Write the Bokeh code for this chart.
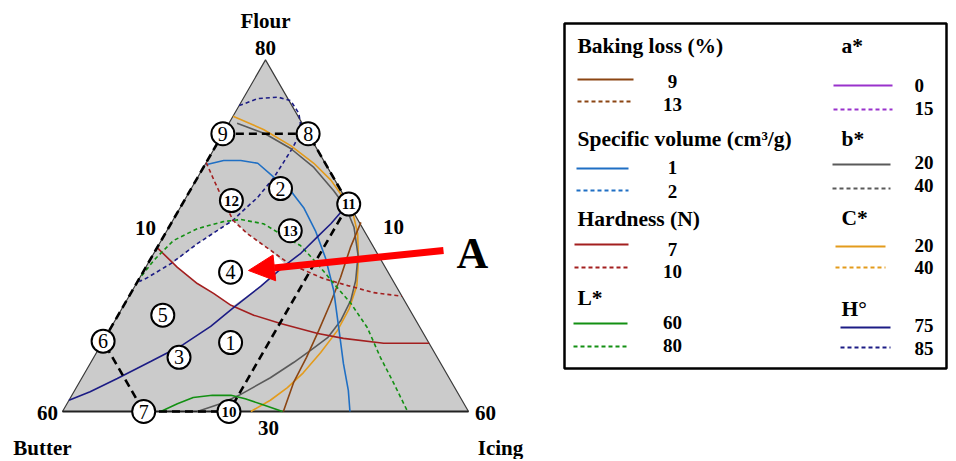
import numpy as np
from bokeh.plotting import figure
from bokeh.models import Range1d, Arrow, NormalHead
from bokeh.core.properties import value
from bokeh.embed import file_html
from bokeh.resources import INLINE

# ---------------- data (percent of Flour / Icing; Butter = 100 - Flour - Icing) ----------------
FLOUR_MIN, BUTTER_MIN, ICING_MIN, SPAN = 30, 10, 10, 50

design_ids = ["1", "2", "3", "4", "5", "6", "7", "8", "9", "10", "11", "12", "13"]
design_flour = [39.8, 61.7, 37.7, 49.8, 43.7, 40.0, 30.0, 69.5, 69.5, 30.0, 59.5, 60.0, 55.7]
design_icing = [25.8, 21.0, 20.5, 20.8, 15.5, 10.0, 20.0, 20.5, 10.0, 30.5, 30.5, 15.8, 25.2]

region_order = ["9", "8", "11", "10", "7", "6", "9"]

# optimum region A
regionA_flour = [57.2, 55.3, 52.9, 50.9, 47.8, 44.9, 46.8, 48.2, 50.5, 51.0, 53.9, 57.2]
regionA_icing = [17.4, 20.1, 24.2, 27.0, 25.5, 23.4, 20.2, 17.5, 13.9, 13.0, 14.7, 17.4]

# Hue angle 85 (dashed navy)
h85_flour = [73.5, 74.5, 74.7, 74.2, 72.4, 71.0, 69.0, 67.5, 65.4, 63.3, 60.4, 58.9, 57.2, 53.9, 51.0, 48.9, 48.5]
h85_icing = [10.0, 11.8, 14.2, 16.0, 17.9, 18.8, 19.5, 19.6, 19.5, 19.4, 18.8, 18.1, 17.4, 14.7, 12.8, 10.8, 10.2]
# Hue angle 75 (solid navy)
h75_flour = [31.6, 32.8, 34.7, 37.1, 39.5, 42.1, 44.8, 47.8, 50.6, 52.5, 54.9, 56.7, 58.3]
h75_icing = [10.0, 12.0, 14.4, 17.3, 20.1, 22.2, 23.7, 25.5, 26.9, 28.1, 29.0, 29.7, 30.1]
# C* 20 (solid orange)
c20_flour = [72.0, 70.1, 67.8, 65.3, 62.9, 60.4, 58.3, 55.3, 51.5, 47.9, 44.6, 41.5, 38.4, 35.5, 33.4, 31.6, 30.0]
c20_icing = [10.0, 14.7, 19.2, 23.3, 26.6, 29.4, 31.6, 33.7, 35.7, 37.3, 38.0, 38.1, 37.6, 36.9, 36.0, 34.8, 33.2]
# b* 20 (solid gray)
b20_flour = [71.0, 69.5, 67.4, 64.7, 61.4, 59.0, 56.2, 52.2, 48.6, 45.8, 42.9, 40.5, 38.7, 37.0, 34.8, 32.4, 31.1, 30.0]
b20_icing = [11.0, 15.2, 19.4, 23.6, 27.7, 30.4, 32.8, 35.3, 36.8, 37.6, 37.8, 37.4, 36.2, 35.0, 33.2, 30.7, 28.9, 26.6]
# Baking loss 9 (solid brown)
bl9_flour = [56.9, 53.3, 49.1, 45.4, 41.5, 37.7, 34.1, 30.0]
bl9_icing = [33.3, 33.8, 34.7, 35.3, 35.8, 36.2, 36.4, 37.2]
# Specific volume 1 (solid blue)
sv1_flour = [65.1, 65.7, 65.7, 65.3, 63.3, 61.4, 58.9, 55.7, 51.8, 47.2, 42.5, 36.8, 33.0, 30.0]
sv1_icing = [10.1, 12.0, 14.1, 16.4, 19.4, 22.4, 25.3, 28.3, 31.5, 34.8, 37.7, 41.2, 43.7, 45.4]
# Hardness 10 (dashed red)
hd10_flour = [65.4, 62.9, 60.0, 57.2, 55.3, 52.9, 51.2, 50.3, 48.9, 47.9, 46.9, 46.4]
hd10_icing = [10.0, 12.2, 14.8, 17.4, 20.1, 24.2, 27.1, 29.2, 32.7, 36.2, 39.9, 43.6]
# Hardness 7 (solid red)
hd7_flour = [53.3, 50.5, 48.2, 46.8, 45.1, 43.7, 42.5, 41.1, 40.4, 39.7, 39.7]
hd7_icing = [10.0, 13.9, 17.5, 20.2, 23.2, 26.7, 30.6, 35.9, 39.4, 44.7, 50.3]
# L* 80 (dashed green)
l80_flour = [49.3, 51.5, 54.3, 56.0, 57.0, 57.3, 56.7, 55.0, 53.6, 51.0, 48.2, 45.4, 41.9, 37.7, 34.0, 30.0]
l80_icing = [10.1, 10.5, 11.5, 13.6, 16.3, 18.3, 21.4, 24.7, 27.5, 30.9, 34.3, 37.8, 41.6, 45.3, 48.8, 52.5]
# L* 60 (solid green)
l60_flour = [30.0, 31.1, 32.0, 32.3, 32.3, 31.8, 31.0, 30.0]
l60_icing = [22.1, 23.6, 25.1, 27.3, 29.6, 31.6, 34.1, 37.1]

# legend content
legend_left_titles = ["Baking loss (%)", "Specific volume (cm\u00b3/g)", "Hardness (N)", "L*"]
legend_left_levels = [["9", "13"], ["1", "2"], ["7", "10"], ["60", "80"]]
legend_right_titles = ["a*", "b*", "C*", "H\u00b0"]
legend_right_levels = [["0", "15"], ["20", "40"], ["20", "40"], ["75", "85"]]

# ---------------- styles ----------------
C_BROWN = "#8B4513"
C_BLUE = "#1F6FC4"
C_RED = "#A31F1F"
C_GREEN = "#139013"
C_PURPLE = "#9932CC"
C_GRAY = "#5A5A5A"
C_ORANGE = "#E39B1C"
C_NAVY = "#1C1C85"
legend_left_colors = [C_BROWN, C_BLUE, C_RED, C_GREEN]
legend_right_colors = [C_PURPLE, C_GRAY, C_ORANGE, C_NAVY]
FONT = value("Liberation Serif")
DASH = "4 3"

# canvas origin in page pixels (observed at the page's top-left)
OX, OY = 0, 0


def tern(flour, icing):
    f = (np.asarray(flour, float) - FLOUR_MIN) / SPAN
    i = (np.asarray(icing, float) - ICING_MIN) / SPAN
    return i + f / 2.0, f * np.sqrt(3) / 2.0


def page(X, Y):
    # page pixel position -> plot units (used for annotation layout only)
    return (np.asarray(X, float) - 62) / 406.0, (411 - np.asarray(Y, float)) / 406.0


W, H = 952, 459
p = figure(width=W, height=H, output_backend="svg", toolbar_location=None,
           x_axis_location=None, y_axis_location=None, min_border=0,
           x_range=Range1d((OX - 62) / 406.0, (OX + W - 62) / 406.0),
           y_range=Range1d((411 - OY - H) / 406.0, (411 - OY) / 406.0))
p.grid.visible = False
p.outline_line_color = None
p.background_fill_color = "white"

# triangle
tx, ty = tern([80, 30, 30], [10, 10, 60])
p.patch(list(tx), list(ty), fill_color="#CBCBCB", line_color="#3a3a3a", line_width=1.2)
p.line(list(tx[1:]), list(ty[1:]), line_color="#222222", line_width=2.2)

# region A
ax, ay = tern(regionA_flour, regionA_icing)
p.patch(list(ax), list(ay), fill_color="white", line_color=None)

curves = [
    (h85_flour, h85_icing, C_NAVY, DASH),
    (c20_flour, c20_icing, C_ORANGE, "solid"),
    (b20_flour, b20_icing, C_GRAY, "solid"),
    (bl9_flour, bl9_icing, C_BROWN, "solid"),
    (sv1_flour, sv1_icing, C_BLUE, "solid"),
    (hd10_flour, hd10_icing, C_RED, DASH),
    (hd7_flour, hd7_icing, C_RED, "solid"),
    (l80_flour, l80_icing, C_GREEN, DASH),
    (l60_flour, l60_icing, C_GREEN, "solid"),
    (h75_flour, h75_icing, C_NAVY, "solid"),
]
for fl, ic, col, dash in curves:
    cx, cy = tern(fl, ic)
    p.line(list(cx), list(cy), line_color=col, line_width=1.6, line_dash=dash)

# experimental region outline
idx = [design_ids.index(k) for k in region_order]
rx, ry = tern([design_flour[k] for k in idx], [design_icing[k] for k in idx])
p.line(list(rx), list(ry), line_color="black", line_width=2.6, line_dash="8 5")

# arrow towards region A
sx, sy = page(443, 250)
ex, ey = page(248, 270)
p.add_layout(Arrow(end=NormalHead(size=26, fill_color="#FF0000", line_color="#FF0000"),
                   x_start=float(sx), y_start=float(sy), x_end=float(ex), y_end=float(ey),
                   line_color="#FF0000", line_width=7))

# design points
dx, dy = tern(design_flour, design_icing)
p.scatter(list(dx), list(dy), size=23, marker="circle", fill_color="white",
          line_color="black", line_width=2)
one = [k for k, s in enumerate(design_ids) if len(s) == 1]
two = [k for k, s in enumerate(design_ids) if len(s) == 2]
p.text([dx[k] for k in one], [dy[k] for k in one], text=[design_ids[k] for k in one],
       text_font=FONT, text_font_size="20px", text_align="center", text_baseline="middle")
p.text([dx[k] for k in two], [dy[k] for k in two], text=[design_ids[k] for k in two],
       text_font=FONT, text_font_size="15px", text_font_style="bold",
       text_align="center", text_baseline="middle")

# triangle labels
lab_text = ["Flour", "80", "10", "10", "60", "60", "30", "Butter", "Icing"]
lab_X = [265, 265, 145, 393, 47, 485, 268, 42, 500]
lab_Y = [20, 47, 227, 226, 412, 412, 427, 447, 447]
lx, ly = page(lab_X, lab_Y)
p.text(list(lx), list(ly), text=lab_text, text_font=FONT, text_font_size="21px",
       text_font_style="bold", text_align="center", text_baseline="middle")
alx, aly = page([472], [253])
p.text(list(alx), list(aly), text=["A"], text_font=FONT, text_font_size="44px",
       text_font_style="bold", text_align="center", text_baseline="middle")

# legend box
bl, bt = page(564, 23)
br, bb = page(946, 368)
p.quad(left=[float(bl)], right=[float(br)], top=[float(bt)], bottom=[float(bb)],
       fill_color=None, line_color="black", line_width=2.5)

# legend entries
titles_X = [577] * 4 + [841] * 4
titles_Y = [45, 138, 218, 297, 45, 138, 217, 308]
solid_Y = [79, 168, 244, 323, 85, 164, 246, 327]
dash_Y = [101, 190, 267, 346, 109, 188, 267, 347]
line_X0 = [577, 576, 574, 573, 833, 832, 835, 840]
line_X1 = [633, 628, 628, 627, 892, 890, 885, 890]
val_X = [672] * 4 + [914] * 4
val_align = ["center"] * 4 + ["left"] * 4
sval_dY = [2, -1, 5, -1, 0, -2, -1, -2]
dval_dY = [3, 1, 4, -1, -1, -3, 0, 1]

titles = legend_left_titles + legend_right_titles
levels = legend_left_levels + legend_right_levels
colors = legend_left_colors + legend_right_colors

tx_, ty_ = page(titles_X, titles_Y)
p.text(list(tx_), list(ty_), text=titles, text_font=FONT, text_font_size="21.5px",
       text_font_style="bold", text_align="left", text_baseline="middle")

x0, ys = page(line_X0, solid_Y)
x1, yd = page(line_X1, dash_Y)
p.segment(list(x0), list(ys), list(x1), list(ys), line_color=colors, line_width=2)
p.segment(list(x0), list(yd), list(x1), list(yd), line_color=colors, line_width=2, line_dash=DASH)

for k in range(8):
    vx, vy = page([val_X[k], val_X[k]], [solid_Y[k] + sval_dY[k], dash_Y[k] + dval_dY[k]])
    p.text(list(vx), list(vy), text=levels[k], text_font=FONT, text_font_size="19px",
           text_font_style="bold", text_align=val_align[k], text_baseline="middle")

open("out.html", "w").write(file_html(p, INLINE))
